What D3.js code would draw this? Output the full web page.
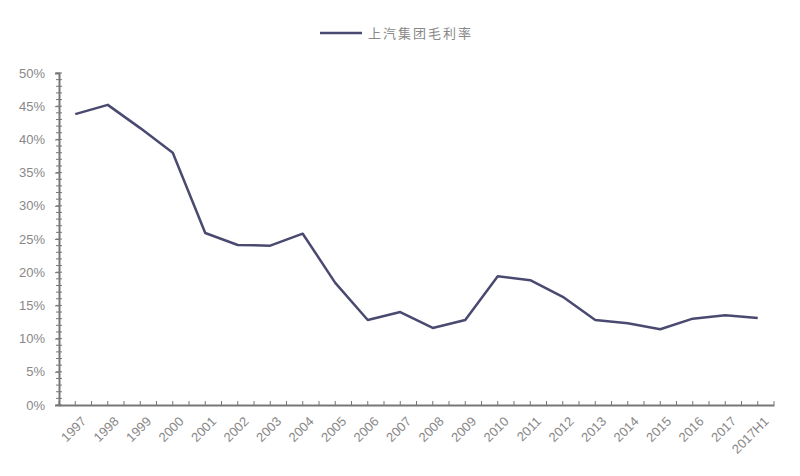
<!DOCTYPE html>
<html><head><meta charset="utf-8">
<script src="https://cdn.jsdelivr.net/npm/d3@7"></script>
<style>body{margin:0;background:#fff}</style>
</head><body>
<svg id="chart" width="800" height="476"></svg>
<script>
// data
var years = ["1997","1998","1999","2000","2001","2002","2003","2004","2005","2006","2007","2008","2009","2010","2011","2012","2013","2014","2015","2016","2017","2017H1"];
var margin = [43.8,45.2,41.7,38,25.9,24.1,24,25.8,18.4,12.8,14,11.6,12.8,19.4,18.8,16.3,12.8,12.3,11.4,13,13.5,13.1];
var yTicks = [0,5,10,15,20,25,30,35,40,45,50];

var svg = d3.select("#chart");
var plotLeft = 59, plotRight = 774, plotTop = 73, plotBottom = 405;

var x = d3.scaleBand().domain(years).range([plotLeft, plotRight]);
var y = d3.scaleLinear().domain([0, 50]).range([plotBottom, plotTop]);

var grey = "#777";

// y axis
var yAxis = d3.axisLeft(y).tickValues(yTicks).tickFormat(d => d + "%").tickSize(4);
var gy = svg.append("g").attr("transform", `translate(${plotLeft},0)`).call(yAxis);
gy.select(".domain").attr("stroke", grey).attr("stroke-width", 2);
gy.selectAll(".tick line").attr("stroke", grey);
gy.selectAll("text").attr("fill", "#888").attr("font-size", 13).attr("x", -14)
    .attr("font-family", "Liberation Sans, Arial, sans-serif");
// minor ticks on y
svg.append("g").selectAll("line").data(d3.range(0, 51, 1)).join("line")
    .attr("x1", plotLeft - 3).attr("x2", plotLeft + 3)
    .attr("y1", d => y(d)).attr("y2", d => y(d))
    .attr("stroke", grey).attr("stroke-width", 1);

// x axis
var gx = svg.append("g").attr("transform", `translate(0,${plotBottom})`)
    .call(d3.axisBottom(x).tickSize(0).tickPadding(14));
gx.select(".domain").attr("stroke", grey).attr("stroke-width", 2);
gx.selectAll("text").attr("fill", "#888").attr("font-size", 13)
    .attr("font-family", "Liberation Sans, Arial, sans-serif")
    .attr("text-anchor", "end").attr("dx", "-0.3em").attr("dy", "0.5em")
    .attr("transform", "rotate(-45)");
// small ticks at band edges and centres
var xt = [];
years.forEach(function (d) { xt.push(x(d)); xt.push(x(d) + x.bandwidth() / 2); });
xt.push(plotRight);
svg.append("g").selectAll("line").data(xt).join("line")
    .attr("x1", d => d).attr("x2", d => d)
    .attr("y1", plotBottom - 4).attr("y2", plotBottom)
    .attr("stroke", grey);

// line
var line = d3.line()
    .x((d, i) => x(years[i]) + x.bandwidth() / 2)
    .y(d => y(d));
svg.append("path").datum(margin).attr("d", line)
    .attr("fill", "none").attr("stroke", "#4a4a70").attr("stroke-width", 2.5)
    .attr("stroke-linejoin", "round");

// legend
svg.append("line").attr("x1", 320).attr("x2", 362).attr("y1", 33).attr("y2", 33)
    .attr("stroke", "#4a4a70").attr("stroke-width", 2.5);
svg.append("text").attr("x", 368).attr("y", 38).text("上汽集团毛利率")
    .attr("font-size", 13).attr("fill", "#888").attr("letter-spacing", 2)
    .attr("font-family", "Noto Sans CJK SC");
</script>
</body></html>
